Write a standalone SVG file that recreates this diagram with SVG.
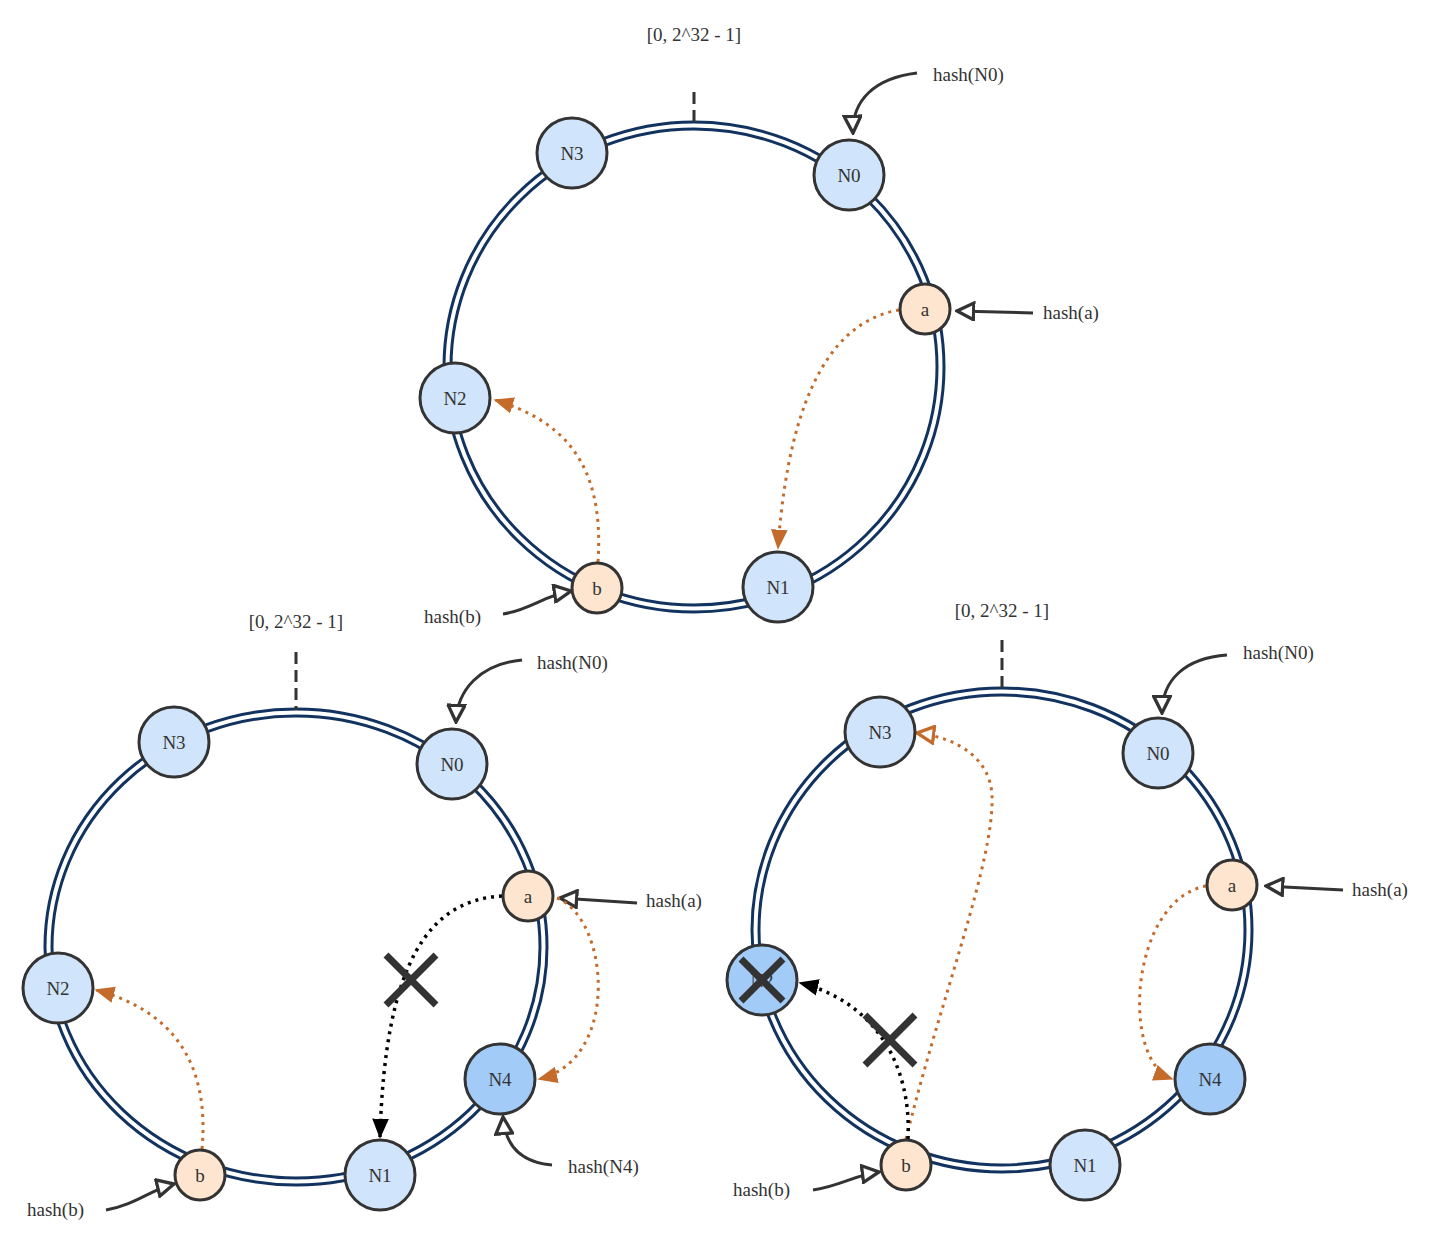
<svg xmlns="http://www.w3.org/2000/svg" width="1432" height="1254" viewBox="0 0 1432 1254">
<style>
.ro{fill:none;stroke:#12335f;stroke-width:3}
.tick{stroke:#333;stroke-width:3;stroke-dasharray:12 6}
.n{fill:#d0e4fb;stroke:#333;stroke-width:3}
.n4{fill:#a2cbf8;stroke:#333;stroke-width:3}
.k{fill:#fde5cf;stroke:#333;stroke-width:3}
text{font-family:"Liberation Serif",serif;font-size:19px;fill:#333}
.c{text-anchor:middle;dominant-baseline:central}
.h{stroke:#333;stroke-width:3;fill:none;marker-end:url(#open)}
.o{stroke:#c46b2b;stroke-width:3;fill:none;stroke-dasharray:3 5}
.b{stroke:#000;stroke-width:3.5;fill:none;stroke-dasharray:3 5;marker-end:url(#blk)}
.x{stroke:#333;stroke-width:7}
</style>
<defs>
<marker id="open" viewBox="0 0 12 12" refX="11" refY="6" markerWidth="20" markerHeight="20" markerUnits="userSpaceOnUse" orient="auto"><path d="M1,1 L11,6 L1,11 Z" fill="#fff" stroke="#333" stroke-width="2"/></marker>
<marker id="ofill" viewBox="0 0 12 12" refX="11" refY="6" markerWidth="20" markerHeight="20" markerUnits="userSpaceOnUse" orient="auto"><path d="M0,1 L12,6 L0,11 Z" fill="#c46b2b"/></marker>
<marker id="oopen" viewBox="0 0 12 12" refX="11" refY="6" markerWidth="20" markerHeight="20" markerUnits="userSpaceOnUse" orient="auto"><path d="M1,1 L11,6 L1,11 Z" fill="#fff" stroke="#c46b2b" stroke-width="2"/></marker>
<marker id="blk" viewBox="0 0 12 12" refX="11" refY="6" markerWidth="20" markerHeight="20" markerUnits="userSpaceOnUse" orient="auto"><path d="M0,1 L12,6 L0,11 Z" fill="#000"/></marker>
</defs>
<g id="rings">
<ellipse class="ro" cx="694" cy="367" rx="250" ry="245"/><ellipse class="ro" cx="694" cy="367" rx="243" ry="238"/>
<ellipse class="ro" cx="296" cy="947" rx="251" ry="238"/><ellipse class="ro" cx="296" cy="947" rx="244" ry="231"/>
<ellipse class="ro" cx="1002" cy="930" rx="250" ry="242"/><ellipse class="ro" cx="1002" cy="930" rx="243" ry="235"/>
<line class="tick" x1="694" y1="92" x2="694" y2="128"/>
<line class="tick" x1="296" y1="652" x2="296" y2="710"/>
<line class="tick" x1="1002" y1="640" x2="1002" y2="690"/>
<text class="c" x="694" y="34">[0, 2^32 - 1]</text>
<text class="c" x="296" y="621">[0, 2^32 - 1]</text>
<text class="c" x="1002" y="610">[0, 2^32 - 1]</text>
</g>
<g id="connectors">
<path class="h" d="M917,73 C875,78 852,100 853,133"/>
<path class="h" d="M1033,313 L957,311"/>
<path class="h" d="M503,614 C530,610 545,595 571,591"/>
<path class="o" marker-end="url(#ofill)" d="M899,310 C840,320 790,380 778,548"/>
<path class="o" marker-end="url(#ofill)" d="M598,562 C605,460 560,420 495,400"/>
<path class="h" d="M522,660 C480,664 457,690 456,722"/>
<path class="h" d="M637,903 L560,898"/>
<path class="h" d="M552,1165 C520,1162 505,1145 503,1117"/>
<path class="h" d="M106,1210 C135,1205 150,1190 174,1184"/>
<path class="o" marker-end="url(#ofill)" d="M202,1149 C210,1060 170,1010 96,990"/>
<path class="o" marker-end="url(#ofill)" d="M557,898 C610,920 620,1060 539,1079"/>
<path class="b" d="M502,896 C430,900 385,960 380,1137"/>
<path class="x" d="M386,955 L436,1005 M436,955 L386,1005"/>
<path class="h" d="M1227,655 C1185,658 1162,680 1162,713"/>
<path class="h" d="M1343,890 L1266,886"/>
<path class="h" d="M813,1190 C840,1186 855,1175 879,1172"/>
<path class="o" marker-end="url(#ofill)" d="M1206,886 C1130,900 1120,1060 1172,1079"/>
<path class="o" marker-end="url(#oopen)" d="M906,1139 C940,1000 995,860 992,795 C990,760 960,738 917,733"/>
<path class="b" d="M908,1139 C912,1060 870,1000 800,983"/>
<path class="x" d="M865,1015 L915,1065 M915,1015 L865,1065"/>
</g>
<g id="ring1-nodes">
<g id="r1-N3"><circle class="n" cx="572" cy="153" r="35"/><text class="c" x="572" y="153">N3</text></g>
<g id="r1-N0"><circle class="n" cx="849" cy="175" r="35"/><text class="c" x="849" y="175">N0</text></g>
<g id="r1-a"><circle class="k" cx="925" cy="309" r="25"/><text class="c" x="925" y="309">a</text></g>
<g id="r1-N2"><circle class="n" cx="455" cy="398" r="35"/><text class="c" x="455" y="398">N2</text></g>
<g id="r1-b"><circle class="k" cx="597" cy="588" r="25"/><text class="c" x="597" y="588">b</text></g>
<g id="r1-N1"><circle class="n" cx="778" cy="587" r="35"/><text class="c" x="778" y="587">N1</text></g>
<text x="933" y="81">hash(N0)</text><text x="1043" y="319">hash(a)</text><text x="424" y="623">hash(b)</text>
</g>
<g id="ring2-nodes">
<g id="r2-N3"><circle class="n" cx="174" cy="742" r="35"/><text class="c" x="174" y="742">N3</text></g>
<g id="r2-N0"><circle class="n" cx="452" cy="764" r="35"/><text class="c" x="452" y="764">N0</text></g>
<g id="r2-a"><circle class="k" cx="528" cy="896" r="25"/><text class="c" x="528" y="896">a</text></g>
<g id="r2-N2"><circle class="n" cx="58" cy="988" r="35"/><text class="c" x="58" y="988">N2</text></g>
<g id="r2-b"><circle class="k" cx="200" cy="1175" r="25"/><text class="c" x="200" y="1175">b</text></g>
<g id="r2-N1"><circle class="n" cx="380" cy="1175" r="35"/><text class="c" x="380" y="1175">N1</text></g>
<g id="r2-N4"><circle class="n4" cx="500" cy="1079" r="35"/><text class="c" x="500" y="1079">N4</text></g>
<text x="537" y="669">hash(N0)</text><text x="646" y="907">hash(a)</text><text x="568" y="1173">hash(N4)</text><text x="27" y="1216">hash(b)</text>
</g>
<g id="ring3-nodes">
<g id="r3-N3"><circle class="n" cx="880" cy="732" r="35"/><text class="c" x="880" y="732">N3</text></g>
<g id="r3-N0"><circle class="n" cx="1158" cy="753" r="35"/><text class="c" x="1158" y="753">N0</text></g>
<g id="r3-a"><circle class="k" cx="1232" cy="885" r="25"/><text class="c" x="1232" y="885">a</text></g>
<g id="r3-N2"><circle class="n4" cx="762" cy="980" r="35"/><text class="c" x="762" y="980">N2</text><path class="x" d="M741,959 L783,1001 M783,959 L741,1001"/></g>
<g id="r3-b"><circle class="k" cx="906" cy="1165" r="25"/><text class="c" x="906" y="1165">b</text></g>
<g id="r3-N1"><circle class="n" cx="1085" cy="1165" r="35"/><text class="c" x="1085" y="1165">N1</text></g>
<g id="r3-N4"><circle class="n4" cx="1210" cy="1079" r="35"/><text class="c" x="1210" y="1079">N4</text></g>
<text x="1243" y="659">hash(N0)</text><text x="1352" y="896">hash(a)</text><text x="733" y="1196">hash(b)</text>
</g>
</svg>
